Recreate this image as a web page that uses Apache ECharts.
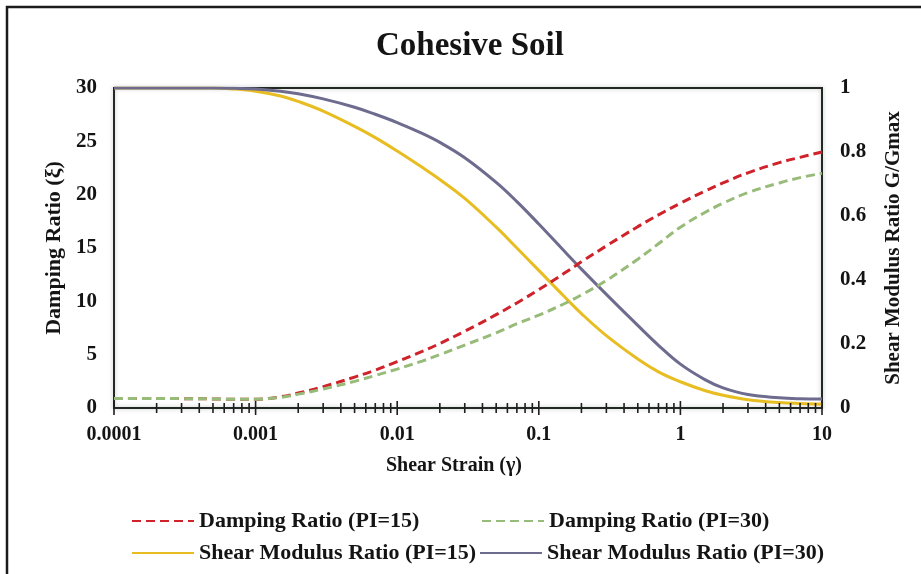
<!DOCTYPE html>
<html>
<head>
<meta charset="utf-8">
<script src="https://cdn.jsdelivr.net/npm/echarts@6/dist/echarts.min.js"></script>
<style>
  html, body { margin: 0; padding: 0; background: #ffffff; }
  #chart { width: 921px; height: 574px; }
</style>
</head>
<body>
<div id="chart"></div>
<script>
// Shear strain (%) sample points along the log axis
const strain = [0.0001, 0.0002, 0.0003, 0.0005, 0.0007, 0.001, 0.0015, 0.002, 0.003, 0.005,
                0.007, 0.01, 0.015, 0.02, 0.03, 0.05, 0.07, 0.1, 0.15, 0.2,
                0.3, 0.5, 0.7, 1, 1.5, 2, 3, 5, 7, 10];

// Damping ratio (%) curves
const dampingPI15 = [0.9, 0.9, 0.88, 0.85, 0.82, 0.82, 1.05, 1.4, 2.0, 2.9,
                     3.55, 4.35, 5.3, 6.05, 7.2, 8.75, 9.85, 11.1, 12.6, 13.7,
                     15.2, 17.0, 18.1, 19.2, 20.35, 21.1, 22.05, 23.0, 23.5, 24.0];
const dampingPI30 = [0.9, 0.9, 0.88, 0.85, 0.82, 0.82, 1.0, 1.3, 1.78, 2.5,
                     3.05, 3.65, 4.4, 5.0, 5.9, 7.05, 7.9, 8.7, 9.75, 10.6,
                     11.95, 13.95, 15.4, 16.95, 18.35, 19.2, 20.2, 21.1, 21.6, 22.0];

// Shear modulus reduction G/Gmax curves
const modulusPI15 = [1, 1, 1, 1, 0.997, 0.99, 0.975, 0.958, 0.928, 0.88,
                     0.845, 0.803, 0.752, 0.714, 0.655, 0.565, 0.5, 0.43, 0.35, 0.295,
                     0.226, 0.153, 0.113, 0.082, 0.054, 0.04, 0.026, 0.017, 0.014, 0.012];
const modulusPI30 = [1, 1, 1, 1, 0.999, 0.997, 0.99, 0.982, 0.966, 0.94,
                     0.918, 0.892, 0.858, 0.83, 0.782, 0.705, 0.645, 0.575, 0.492, 0.434,
                     0.355, 0.258, 0.196, 0.137, 0.088, 0.063, 0.042, 0.032, 0.029, 0.028];

// Axis tick labels
const strainLabels = ['0.0001', '0.001', '0.01', '0.1', '1', '10'];
const seriesNames = ['Damping Ratio (PI=15)', 'Damping Ratio (PI=30)',
                     'Shear Modulus Ratio (PI=15)', 'Shear Modulus Ratio (PI=30)'];

// Tick marks at 1..9 x each decade of the strain axis
const decadeTicks = [];
for (let d = -4; d <= 1; d++) {
  for (let k = 1; k <= 9; k++) {
    const v = k * Math.pow(10, d);
    if (v <= 10.0000001) decadeTicks.push([v, k === 1 ? 1 : 0]);
  }
}

const FONT = '"Liberation Serif", "Times New Roman", serif';
const INK = '#141414';

const pairs = ys => strain.map((x, i) => [x, ys[i]]);

const chart = echarts.init(document.getElementById('chart'), null, { renderer: 'canvas' });

function legendFor(name, left, top) {
  return {
    data: [name],
    left: left, top: top,
    padding: 0,
    itemWidth: 62, itemHeight: 14,
    itemStyle: { opacity: 0 },
    textStyle: { fontFamily: FONT, fontWeight: 'bold', fontSize: 22, color: INK }
  };
}

chart.setOption({
  animation: false,
  backgroundColor: '#ffffff',
  title: {
    text: 'Cohesive Soil',
    left: 376, top: 30, padding: 0,
    textStyle: { fontFamily: FONT, fontWeight: 'bold', fontSize: 33, color: INK }
  },
  graphic: [{
    type: 'rect',
    shape: { x: 7, y: 7, width: 1000, height: 1000 },
    style: { fill: 'none', stroke: '#1b1b1b', lineWidth: 2.5 },
    silent: true
  }],
  grid: {
    left: 114, top: 88, width: 708, height: 320,
    show: true, borderColor: '#222822', borderWidth: 2,
    shadowColor: 'rgba(0,0,0,0.25)', shadowBlur: 4
  },
  legend: [
    legendFor(seriesNames[0], 131, 510),
    legendFor(seriesNames[1], 481, 510),
    legendFor(seriesNames[2], 131, 542),
    legendFor(seriesNames[3], 479, 542)
  ],
  xAxis: {
    type: 'log', logBase: 10, min: 0.0001, max: 10,
    name: 'Shear Strain (γ)', nameLocation: 'middle', nameGap: 48,
    nameTextStyle: { fontFamily: FONT, fontWeight: 'bold', fontSize: 20, color: INK,
                     padding: [0, 28, 0, 0] },
    axisLine: { show: true, lineStyle: { color: '#222822', width: 2 } },
    axisTick: { show: false },
    splitLine: { show: false },
    axisLabel: {
      margin: 17, fontFamily: FONT, fontWeight: 'bold', fontSize: 20, color: INK,
      formatter: v => strainLabels[Math.round(Math.log10(v)) + 4]
    }
  },
  yAxis: [{
    type: 'value', min: 0, max: 30, interval: 5,
    name: 'Damping Ratio (ξ)', nameLocation: 'middle', nameGap: 46, nameRotate: 90,
    nameTextStyle: { fontFamily: FONT, fontWeight: 'bold', fontSize: 22, color: INK },
    axisLine: { show: false }, axisTick: { show: false }, splitLine: { show: false },
    axisLabel: { margin: 17, fontFamily: FONT, fontWeight: 'bold', fontSize: 21, color: INK }
  }, {
    type: 'value', min: 0, max: 1, interval: 0.2, position: 'right',
    name: 'Shear Modulus Ratio G/Gmax', nameLocation: 'middle', nameGap: 61, nameRotate: 90,
    nameTextStyle: { fontFamily: FONT, fontWeight: 'bold', fontSize: 21, color: INK },
    axisLine: { show: false }, axisTick: { show: false }, splitLine: { show: false },
    axisLabel: { margin: 18, fontFamily: FONT, fontWeight: 'bold', fontSize: 21, color: INK }
  }],
  series: [{
    name: seriesNames[0], type: 'line', yAxisIndex: 0, data: pairs(dampingPI15),
    smooth: 0.4, symbol: 'none', z: 3,
    lineStyle: { color: '#d0222a', width: 3, type: [9, 5] },
    itemStyle: { color: '#d0222a' }
  }, {
    name: seriesNames[1], type: 'line', yAxisIndex: 0, data: pairs(dampingPI30),
    smooth: 0.4, symbol: 'none', z: 3,
    lineStyle: { color: '#97bb78', width: 3, type: [9, 5] },
    itemStyle: { color: '#97bb78' }
  }, {
    name: seriesNames[2], type: 'line', yAxisIndex: 1, data: pairs(modulusPI15),
    smooth: 0.4, symbol: 'none', z: 2,
    lineStyle: { color: '#e8bd22', width: 3 },
    itemStyle: { color: '#e8bd22' }
  }, {
    name: seriesNames[3], type: 'line', yAxisIndex: 1, data: pairs(modulusPI30),
    smooth: 0.4, symbol: 'none', z: 2,
    lineStyle: { color: '#6e6c8e', width: 3 },
    itemStyle: { color: '#6e6c8e' }
  }, {
    // log-decade tick marks crossing the strain axis
    type: 'custom', xAxisIndex: 0, yAxisIndex: 0, data: decadeTicks,
    clip: false, silent: true, z: 5,
    renderItem: (params, api) => {
      const p = api.coord([api.value(0), 0]);
      const h = api.value(1) ? 7 : 5;
      return {
        type: 'line',
        shape: { x1: p[0], y1: p[1] - h, x2: p[0], y2: p[1] + h },
        style: { stroke: '#1e1e1e', lineWidth: 1.6 }
      };
    }
  }]
});
</script>
</body>
</html>
